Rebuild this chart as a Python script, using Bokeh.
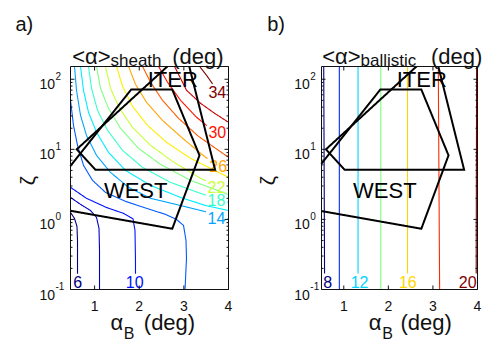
import math
from bokeh.plotting import figure
from bokeh.layouts import row
from bokeh.models import Range1d
from bokeh.core.properties import value
from bokeh.embed import file_html
from bokeh.resources import INLINE

FONT = "Liberation Sans"
INK = "#111111"

# ---------------- axes ----------------
ALPHA_B_MAX = 4.0
ALPHA_B_TICKS = [1, 2, 3, 4]
ZETA_TICKS = [0.1, 1, 10, 100]
ZETA_RANGE = (0.1, 152)

# ---------------- panel a: <alpha>_sheath (deg) ----------------
SHEATH_LEVELS = [6, 8, 10, 12, 14, 16, 18, 20, 22, 24, 26, 28, 30, 32, 34]
SHEATH_ALPHA_B = [
    [0.46, 0.55, 0.605, 0.617, 0.617, 0.617],
    [0.46, 0.684, 0.908, 1.043, 1.099, 1.11, 1.11],
    [0.46, 0.818, 1.266, 1.648, 1.86, 1.905, 1.916, 1.916],
    [0.46, 0.527, 0.617, 0.751, 0.953, 1.244, 1.692, 2.163, 2.589, 2.835, 2.992, 3.048, 3.059, 3.026],
    [0.55, 0.594, 0.684, 0.818, 1.043, 1.356, 1.76, 2.253, 2.925, 3.462, 4.0],
    [0.684, 0.751, 0.863, 1.043, 1.311, 1.692, 2.253, 2.925, 3.485, 4.0],
    [0.863, 0.931, 1.065, 1.289, 1.625, 2.073, 2.7, 3.373, 4.0],
    [1.043, 1.132, 1.311, 1.58, 1.984, 2.477, 3.149, 4.0],
    [1.244, 1.356, 1.558, 1.849, 2.253, 2.745, 3.373, 4.0],
    [1.491, 1.625, 1.849, 2.185, 2.611, 3.149, 4.0],
    [1.76, 1.916, 2.163, 2.521, 2.97, 3.485, 4.0],
    [2.073, 2.253, 2.521, 2.88, 3.328, 4.0],
    [2.432, 2.633, 2.925, 3.283, 3.642, 4.0],
    [2.79, 3.059, 3.373, 3.687, 4.0],
    [3.35, 3.507, 3.664, 3.798, 4.0],
]
SHEATH_ZETA = [
    [1.26, 1.03, 0.794, 0.501, 0.26, 0.1],
    [2.06, 1.64, 1.34, 1.07, 0.743, 0.361, 0.1],
    [2.87, 2.0, 1.48, 1.22, 1.02, 0.697, 0.26, 0.1],
    [50.1, 22.0, 11.4, 5.91, 3.61, 2.43, 1.81, 1.44, 1.18, 1.0, 0.821, 0.501, 0.277, 0.1],
    [153, 69.7, 30.6, 15.8, 8.2, 4.69, 2.87, 2.0, 1.58, 1.30, 1.0],
    [153, 69.7, 33.8, 17.5, 9.06, 5.01, 3.06, 2.06, 1.58, 1.34],
    [153, 74.4, 36.1, 18.7, 9.68, 5.53, 3.38, 2.35, 1.75],
    [153, 74.4, 38.5, 19.95, 10.3, 6.1, 3.61, 2.27],
    [153, 74.4, 38.5, 20.6, 11.4, 6.74, 3.85, 2.6],
    [153, 79.4, 41.1, 22.0, 12.6, 7.44, 3.98],
    [153, 84.9, 46.9, 25.9, 14.4, 7.69, 5.01],
    [153, 90.6, 50.1, 27.7, 15.3, 7.69],
    [153, 90.6, 50.1, 28.7, 18.7, 13.4],
    [153, 69.7, 45.4, 32.7, 24.3],
    [153, 114, 82.1, 61.1, 50.1],
]
SHEATH_LABEL_LEVELS = [6, 10, 14, 18, 22, 26, 30, 34]
SHEATH_LABEL_ALPHA_B = [0.62, 1.90, 3.73, 3.73, 3.73, 3.77, 3.75, 3.75]
SHEATH_LABEL_ZETA = [0.13, 0.13, 1.04, 1.87, 2.89, 5.71, 17.7, 66.0]

# ---------------- panel b: <alpha>_ballistic (deg) ----------------
BALLISTIC_LEVELS = [8, 10, 12, 14, 16, 18, 20]
BALLISTIC_ALPHA_B = [
    [0.57, 0.55], [0.90, 0.90], [1.32, 1.32], [1.83, 1.83],
    [2.43, 2.43], [3.15, 3.12], [3.97, 3.98],
]
BALLISTIC_ZETA = [
    [0.1, 153], [0.1, 153], [0.1, 153], [0.1, 153],
    [0.1, 153], [0.1, 153], [0.1, 153],
]
BALLISTIC_LABEL_LEVELS = [8, 12, 16, 20]
BALLISTIC_LABEL_ALPHA_B = [0.64, 1.355, 2.437, 3.78]
BALLISTIC_LABEL_ZETA = [0.13, 0.13, 0.13, 0.13]

# ---------------- operating windows ----------------
ITER_ALPHA_B = [3.03, 3.70, 1.02, 0.60, 3.03]
ITER_ZETA = [260, 5.1, 5.1, 10.0, 260]
WEST_ALPHA_B = [0.40, 1.82, 2.74, 3.35, 2.74, 0.40, 0.40]
WEST_ZETA = [5.2, 71.3, 71.3, 8.2, 0.736, 1.35, 5.2]
DEVICE_NAMES = ["ITER", "WEST"]
DEVICE_TEXT_ALPHA_B = [2.75, 1.92]
DEVICE_TEXT_ZETA = [100, 2.6]

# page geometry (px)
FRAME_TOP = 66
FRAME_BOTTOM = 289
FRAME_H = FRAME_BOTTOM - FRAME_TOP
HEIGHT = 341


def jet_hex(t):
    def c(v):
        return max(0.0, min(1.0, v))
    r = c(1.5 - abs(4 * t - 3))
    g = c(1.5 - abs(4 * t - 2))
    b = c(1.5 - abs(4 * t - 1))
    return "#%02x%02x%02x" % (round(r * 255), round(g * 255), round(b * 255))


def trace(xs, zs, boxes, to_px, from_px, frame_w):
    """Resample a polyline in pixel space, drop what lies outside the frame
    or under an inline label, and return the visible runs in data units."""
    pts = [to_px(x, z) for x, z in zip(xs, zs)]
    dense = []
    for (x0, y0), (x1, y1) in zip(pts[:-1], pts[1:]):
        n = max(1, int(math.hypot(x1 - x0, y1 - y0) / 0.4))
        for k in range(n):
            f = k / n
            dense.append((x0 + (x1 - x0) * f, y0 + (y1 - y0) * f))
    dense.append(pts[-1])
    runs, cur = [], []
    for px, py in dense:
        outside = px < -0.3 or px > frame_w + 0.3 or py < -0.3 or py > FRAME_H + 0.3
        covered = any(abs(px - bx) <= hw and abs(py - by) <= hh for bx, by, hw, hh in boxes)
        if outside or covered:
            if len(cur) > 1:
                runs.append(cur)
            cur = []
        else:
            cur.append((px, py))
    if len(cur) > 1:
        runs.append(cur)
    out = []
    for r in runs:
        d = [from_px(px, py) for px, py in r]
        out.append(([a for a, _ in d], [b for _, b in d]))
    return out


def build_panel(x_lo, page_left, frame_left, frame_w, right_border,
                levels, cx, cz, lab_levels, lab_x, lab_z,
                title_parts, xlabel_parts, letter, letter_x, zeta_x, num_right):
    width = frame_left + frame_w + right_border
    lz0, lz1 = math.log10(ZETA_RANGE[0]), math.log10(ZETA_RANGE[1])
    xpp = (ALPHA_B_MAX - x_lo) / frame_w          # alpha_B per pixel
    dpp = (lz1 - lz0) / FRAME_H                    # decades per pixel

    def X(px_page):
        return x_lo + (px_page - page_left - frame_left) * xpp

    def Z(py_page):
        return 10 ** (lz0 + (FRAME_BOTTOM - py_page) * dpp)

    def to_px(x, z):
        return ((x - x_lo) / xpp, (math.log10(z) - lz0) / dpp)

    def from_px(px, py):
        return (x_lo + px * xpp, 10 ** (lz0 + py * dpp))

    p = figure(output_backend="svg", toolbar_location=None,
               width=width, height=HEIGHT,
               x_range=Range1d(X(page_left), X(page_left + width)),
               y_range=Range1d(Z(HEIGHT), Z(0)),
               y_axis_type="log", x_axis_location=None, y_axis_location=None,
               min_border=0, min_border_left=0, min_border_right=0,
               min_border_top=0, min_border_bottom=0)
    p.outline_line_color = None
    p.background_fill_color = "white"
    p.border_fill_color = "white"
    p.grid.visible = False

    # ---- contours ----
    lo, hi = levels[0], levels[-1]
    for lev, xs, zs in zip(levels, cx, cz):
        color = jet_hex((lev - lo) / (hi - lo))
        boxes = []
        for lv, x, z in zip(lab_levels, lab_x, lab_z):
            if lv == lev:
                bx, by = to_px(x, z)
                boxes.append((bx, by, len(str(lv)) * 0.556 * 16 / 2 + 1.5, 0.716 * 16 / 2 + 2))
        runs = trace(xs, zs, boxes, to_px, from_px, frame_w)
        p.multi_line([r[0] for r in runs], [r[1] for r in runs],
                     line_color=color, line_width=1.1)

    p.text(x=lab_x, y=lab_z, text=[str(v) for v in lab_levels],
           text_color=[jet_hex((v - lo) / (hi - lo)) for v in lab_levels],
           text_font=value(FONT), text_font_size="16px",
           text_align="center", text_baseline="middle")

    # ---- ITER / WEST windows ----
    for px_, pz_ in ((ITER_ALPHA_B, ITER_ZETA), (WEST_ALPHA_B, WEST_ZETA)):
        runs = trace(px_, pz_, [], to_px, from_px, frame_w)
        p.multi_line([r[0] for r in runs], [r[1] for r in runs],
                     line_color="black", line_width=2, line_join="miter")
    p.text(x=DEVICE_TEXT_ALPHA_B, y=DEVICE_TEXT_ZETA, text=DEVICE_NAMES,
           text_color="black", text_font=value(FONT), text_font_size="22px",
           text_align="center", text_baseline="middle")

    # ---- frame, ticks ----
    top, bot = ZETA_RANGE[1], ZETA_RANGE[0]
    p.quad(left=[x_lo], right=[ALPHA_B_MAX], bottom=[bot], top=[top],
           fill_color=None, line_color=INK, line_width=1)
    tk = 10 ** (4 * dpp)
    n = len(ALPHA_B_TICKS)
    p.segment(x0=ALPHA_B_TICKS, y0=[bot] * n, x1=ALPHA_B_TICKS, y1=[bot * tk] * n,
              line_color=INK, line_width=1)
    p.segment(x0=ALPHA_B_TICKS, y0=[top] * n, x1=ALPHA_B_TICKS, y1=[top / tk] * n,
              line_color=INK, line_width=1)
    yminor = [m * 10.0 ** e for e in range(-1, 3) for m in range(2, 10) if m * 10.0 ** e < top]
    for edge, sgn in ((x_lo, 1), (ALPHA_B_MAX, -1)):
        m = len(ZETA_TICKS)
        p.segment(x0=[edge] * m, y0=ZETA_TICKS, x1=[edge + sgn * 4 * xpp] * m, y1=ZETA_TICKS,
                  line_color=INK, line_width=1)
        k = len(yminor)
        p.segment(x0=[edge] * k, y0=yminor, x1=[edge + sgn * 2 * xpp] * k, y1=yminor,
                  line_color=INK, line_width=1)

    # ---- tick labels ----
    p.text(x=ALPHA_B_TICKS, y=[Z(305)] * n, text=[str(t) for t in ALPHA_B_TICKS],
           text_color=INK, text_font=value(FONT), text_font_size="14px",
           text_align="center", text_baseline="alphabetic")
    mant_x = X(page_left + frame_left - num_right)
    p.text(x=[mant_x] * len(ZETA_TICKS), y=[t / 10 ** (5 * dpp) for t in ZETA_TICKS],
           text=["10"] * len(ZETA_TICKS),
           text_color=INK, text_font=value(FONT), text_font_size="14px",
           text_align="right", text_baseline="alphabetic")
    p.text(x=[mant_x + 0.5 * xpp] * len(ZETA_TICKS),
           y=[t * 10 ** (3.5 * dpp) for t in ZETA_TICKS],
           text=[str(int(round(math.log10(t)))) for t in ZETA_TICKS],
           text_color=INK, text_font=value(FONT), text_font_size="10px",
           text_align="left", text_baseline="alphabetic")

    # ---- titles and axis labels ----
    def put(Xp, Yp, text, size, align="left", baseline="alphabetic", angle=0.0):
        p.text(x=[X(Xp)], y=[Z(Yp)], text=[text], angle=angle,
               text_color=INK, text_font=value(FONT), text_font_size=f"{size}px",
               text_align=align, text_baseline=baseline)

    for Xp, Yp, text, size in title_parts + xlabel_parts:
        put(Xp, Yp, text, size)
    put(letter_x, 23.5, letter, 20)
    put(zeta_x, 180, "ζ", 21, align="center", baseline="middle", angle=math.pi / 2)
    return p


pa = build_panel(0.46, 0, 70, 158, 13,
                 SHEATH_LEVELS, SHEATH_ALPHA_B, SHEATH_ZETA,
                 SHEATH_LABEL_LEVELS, SHEATH_LABEL_ALPHA_B, SHEATH_LABEL_ZETA,
                 [(71.7, 55.5, "<α>", 22), (110, 59.5, "sheath", 17), (171.7, 55.5, "(deg)", 22)],
                 [(110, 322, "α", 22), (123.3, 333, "B", 16), (143.3, 322, "(deg)", 22)],
                 "a)", 15, 26.7, 15.5)

pb = build_panel(0.5, 241, 80, 156, 6,
                 BALLISTIC_LEVELS, BALLISTIC_ALPHA_B, BALLISTIC_ZETA,
                 BALLISTIC_LABEL_LEVELS, BALLISTIC_LABEL_ALPHA_B, BALLISTIC_LABEL_ZETA,
                 [(321.7, 55.5, "<α>", 22), (360, 59.5, "ballistic", 17), (430.5, 55.5, "(deg)", 22)],
                 [(368.3, 322, "α", 22), (381.7, 333, "B", 16), (400, 322, "(deg)", 22)],
                 "b)", 266.7, 266.7, 11.7)

layout = row(pa, pb)
open("out.html", "w").write(file_html(layout, INLINE))
